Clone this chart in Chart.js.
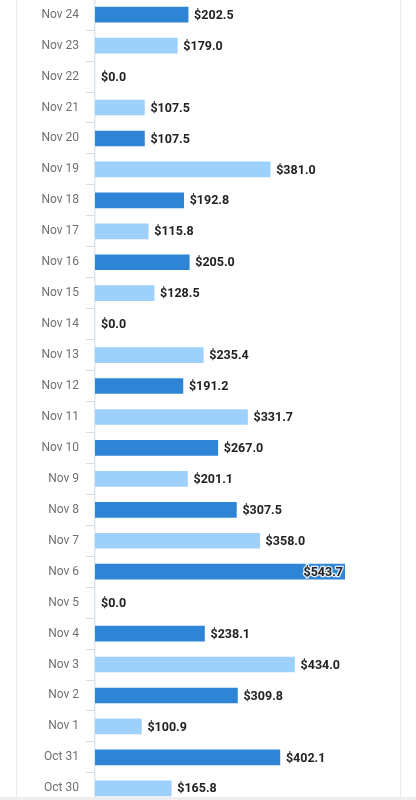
<!DOCTYPE html>
<html>
<head>
<meta charset="utf-8">
<script src="https://cdn.jsdelivr.net/npm/chart.js@4"></script>
<style>
  html, body { margin: 0; padding: 0; background: #fff; overflow: hidden; }
  body { width: 416px; height: 800px; position: relative; }
  .edge { position: absolute; top: 0; width: 1px; height: 800px; background: #ececec; }
  #wrap { position: absolute; left: 16px; top: -15px; width: 384px; height: 833px; }
  #foot { position: absolute; left: 0; top: 797px; width: 416px; height: 3px; background: #eeeeee; }
</style>
</head>
<body>
<div class="edge" style="left:16px"></div>
<div class="edge" style="left:400px"></div>
<div id="wrap"><canvas id="bars"></canvas></div>
<div id="foot"></div>
<script>
const days = ['Nov 24','Nov 23','Nov 22','Nov 21','Nov 20','Nov 19','Nov 18','Nov 17','Nov 16',
  'Nov 15','Nov 14','Nov 13','Nov 12','Nov 11','Nov 10','Nov 9','Nov 8','Nov 7','Nov 6',
  'Nov 5','Nov 4','Nov 3','Nov 2','Nov 1','Oct 31','Oct 30']
const amounts = [202.5,179.0,0,107.5,107.5,381.0,192.8,115.8,205.0,
  128.5,0,235.4,191.2,331.7,267.0,201.1,307.5,358.0,543.7,
  0,238.1,434.0,309.8,100.9,402.1,165.8]

const dark = '#2e85d6'
const light = '#9dd0fa'
const colors = amounts.map((v, i) => v === 0 ? 'rgba(0,0,0,0)' : (i % 2 === 0 ? dark : light))

// draws "$x.x" at the end of every bar, pushed inside when it would overflow
const valueLabels = {
  id: 'valueLabels',
  afterDatasetsDraw(chart) {
    const ctx = chart.ctx
    const area = chart.chartArea
    const meta = chart.getDatasetMeta(0)
    ctx.save()
    ctx.font = 'bold 12.5px Roboto'
    ctx.textBaseline = 'middle'
    meta.data.forEach((bar, i) => {
      const txt = '$' + amounts[i].toFixed(1)
      const w = ctx.measureText(txt).width
      let x = bar.x + 6
      if (x + w > area.right) {
        ctx.textAlign = 'right'
        x = bar.x - 2
        ctx.lineWidth = 2.5
        ctx.strokeStyle = 'rgba(255,255,255,0.85)'
        ctx.strokeText(txt, x, bar.y + 1)
      } else {
        ctx.textAlign = 'left'
      }
      ctx.fillStyle = '#222'
      ctx.fillText(txt, x, bar.y + 1)
    })
    ctx.restore()
  }
}

const chart = new Chart(document.getElementById('bars'), {
  type: 'bar',
  data: {
    labels: days,
    datasets: [{
      data: amounts,
      backgroundColor: colors,
      barThickness: 15
    }]
  },
  options: {
    indexAxis: 'y',
    responsive: true,
    maintainAspectRatio: false,
    animation: false,
    layout: { padding: { left: 0, right: 55, top: 0, bottom: 0 } },
    plugins: {
      legend: { display: false },
      tooltip: { enabled: false }
    },
    scales: {
      x: {
        display: false,
        min: 0,
        max: Math.max(...amounts)
      },
      y: {
        afterFit(scale) { scale.width = 79 },
        grid: { drawOnChartArea: false, color: '#dcdcdc', tickLength: 9 },
        border: { color: '#dde7ef', width: 1.5 },
        ticks: { color: '#707070', padding: 7, font: { family: 'Roboto', size: 12 } }
      }
    }
  },
  plugins: [valueLabels]
})
</script>
</body>
</html>
